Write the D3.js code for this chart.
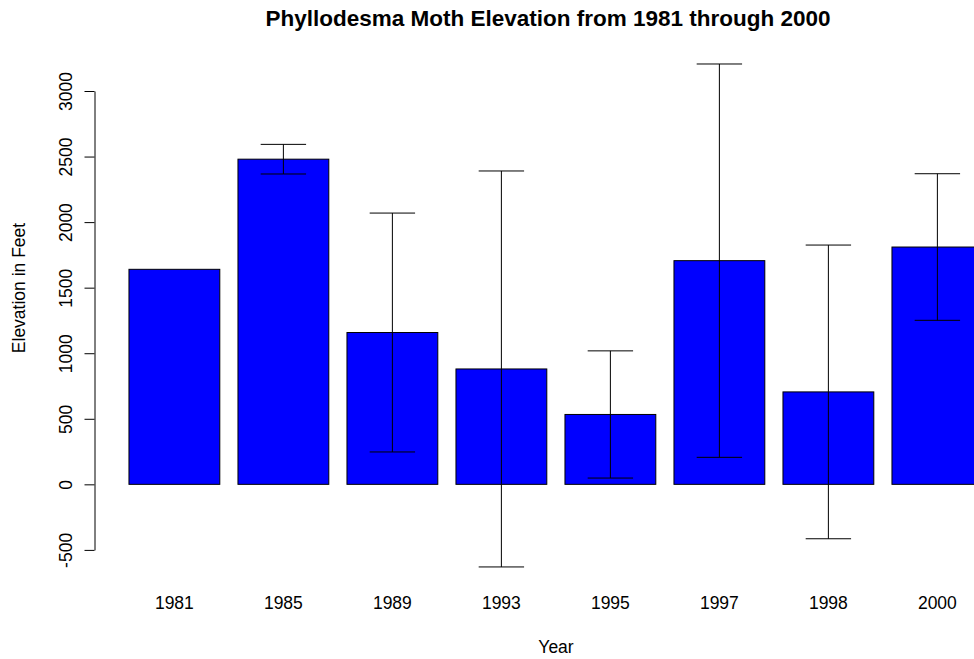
<!DOCTYPE html>
<html>
<head>
<meta charset="utf-8">
<script src="https://cdn.jsdelivr.net/npm/d3@7"></script>
<style>
  body { margin: 0; background: #fff; }
  svg text { font-family: "Liberation Sans", Arial, sans-serif; fill: #000; }
</style>
</head>
<body>
<div id="chart"></div>
<script>
// values
const years = ["1981", "1985", "1989", "1993", "1995", "1997", "1998", "2000"];
const meanElevation = [1640, 2480, 1158, 880, 533, 1706, 705, 1810];
const errorHalf = [0, 113, 911, 1510, 485, 1500, 1120, 559];
const yTicks = [-500, 0, 500, 1000, 1500, 2000, 2500, 3000];

const width = 974, height = 659;
const baseFont = "17.5px";

const svg = d3.select("#chart").append("svg")
    .attr("width", width)
    .attr("height", height);

// bar i spans [0.2 + 1.2i, 1.2 + 1.2i] like R's barplot
const x = d3.scaleLinear().domain([0, 9.6]).range([110.8, 982.8]);
const y = d3.scaleLinear().domain([-500, 3000]).range([549.9, 91]);

const barLeft = i => 0.2 + 1.2 * i;
const barMid = i => 0.7 + 1.2 * i;

svg.selectAll("rect.bar")
    .data(meanElevation)
    .enter().append("rect")
    .attr("class", "bar")
    .attr("x", (d, i) => x(barLeft(i)))
    .attr("width", x(1) - x(0))
    .attr("y", d => y(d))
    .attr("height", d => y(0) - y(d))
    .attr("fill", "#0000ff")
    .attr("stroke", "#000")
    .attr("stroke-width", 1);

// error bars
const capHalf = x(0.25) - x(0);
const errs = svg.append("g")
    .attr("stroke", "#000")
    .attr("stroke-width", 1)
    .attr("fill", "none");

meanElevation.forEach((m, i) => {
    const e = errorHalf[i];
    if (!e) return;
    const cx = x(barMid(i));
    errs.append("line")
        .attr("x1", cx).attr("x2", cx)
        .attr("y1", y(m - e)).attr("y2", y(m + e));
    [m - e, m + e].forEach(v => {
        errs.append("line")
            .attr("x1", cx - capHalf).attr("x2", cx + capHalf)
            .attr("y1", y(v)).attr("y2", y(v));
    });
});

// y axis, R style: ticks outside, labels parallel to the axis
const axisX = 94.5;
const yAxis = svg.append("g")
    .attr("transform", "translate(" + axisX + ",0)")
    .call(d3.axisLeft(y).tickValues(yTicks).tickSize(10).tickSizeOuter(0).tickFormat(d => String(d)));
yAxis.select(".domain").attr("stroke", "#000");
yAxis.selectAll(".tick line").attr("stroke", "#000");
yAxis.selectAll(".tick text")
    .attr("x", 0).attr("y", 0).attr("dy", null)
    .attr("transform", "translate(-23,0) rotate(-90)")
    .attr("text-anchor", "middle")
    .style("font-size", baseFont)
    .style("font-family", "Liberation Sans, Arial, sans-serif");

// category labels
svg.selectAll("text.year")
    .data(years)
    .enter().append("text")
    .attr("class", "year")
    .attr("x", (d, i) => x(barMid(i)))
    .attr("y", 609)
    .attr("text-anchor", "middle")
    .style("font-size", baseFont)
    .text(d => d);

svg.append("text")
    .attr("x", 548)
    .attr("y", 26)
    .attr("text-anchor", "middle")
    .style("font-size", "22.5px")
    .style("font-weight", "bold")
    .text("Phyllodesma Moth Elevation from 1981 through 2000");

svg.append("text")
    .attr("x", 556)
    .attr("y", 653)
    .attr("text-anchor", "middle")
    .style("font-size", baseFont)
    .text("Year");

svg.append("text")
    .attr("transform", "translate(25,288) rotate(-90)")
    .attr("text-anchor", "middle")
    .style("font-size", baseFont)
    .text("Elevation in Feet");
</script>
</body>
</html>
